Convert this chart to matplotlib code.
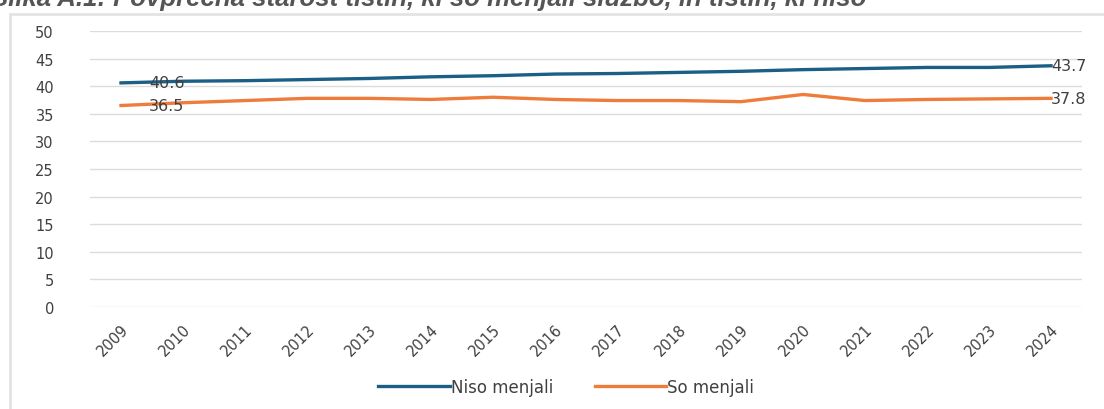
import matplotlib.pyplot as plt
from matplotlib.patches import Rectangle

years = [str(y) for y in range(2009, 2025)]
niso_menjali = [40.6, 40.9, 41.0, 41.2, 41.4, 41.7, 41.9, 42.2,
                42.3, 42.5, 42.7, 43.0, 43.2, 43.4, 43.4, 43.7]
so_menjali = [36.5, 37.0, 37.4, 37.8, 37.8, 37.6, 38.0, 37.6,
              37.4, 37.4, 37.2, 38.5, 37.4, 37.6, 37.7, 37.8]
title = 'Slika A.1: Povprečna starost tistih, ki so menjali službo, in tistih, ki niso'

plt.rcParams['font.family'] = ['DejaVu Sans']

fig = plt.figure(figsize=(11.04, 4.10), dpi=100)
ax = fig.add_axes([90 / 1104, 1 - 308 / 410, 992 / 1104, 276 / 410])

# frame around the chart area
fig.patches.append(Rectangle((10 / 1104, -0.1), 1.2, 1 - 15 / 410 + 0.1,
                             transform=fig.transFigure, fill=False,
                             edgecolor='#e3e3e3', lw=2))
fig.text(-0.008, 1 - 6 / 410, title, fontsize=18.5, fontweight='bold',
         fontstyle='italic', color='#555555', va='baseline', ha='left',
         family='Liberation Sans')

x = range(len(years))
ax.plot(x, niso_menjali, color='#1b5e86', lw=2.4, label='Niso menjali')
ax.plot(x, so_menjali, color='#ee7d3b', lw=2.4, label='So menjali')

lab_kw = dict(fontsize=11.5, color='#404040', va='center')
ax.text(0.45, niso_menjali[0], f'{niso_menjali[0]:.1f}', **lab_kw)
ax.text(0.45, so_menjali[0], f'{so_menjali[0]:.1f}', **lab_kw)
ax.text(15.0, niso_menjali[-1], f'{niso_menjali[-1]:.1f}', **lab_kw)
ax.text(15.0, so_menjali[-1], f'{so_menjali[-1]:.1f}', **lab_kw)

ax.set_xlim(-0.5, 15.5)
ax.set_ylim(0, 50)
ax.set_yticks(range(0, 51, 5))
ax.set_xticks(list(x))
ax.set_xticklabels(years, rotation=45, ha='right', rotation_mode='anchor')
ax.tick_params(axis='both', length=0, labelsize=10.5, labelcolor='#404040')
ax.tick_params(axis='y', pad=26)
ax.tick_params(axis='x', pad=10)
ax.grid(axis='y', color='#dcdcdc', lw=1)
ax.set_axisbelow(True)
for s in ax.spines.values():
    s.set_visible(False)

ax.legend(loc='center', bbox_to_anchor=(0.48, -0.29), ncol=2, frameon=False,
          fontsize=12, handlelength=4.3, handletextpad=0.05, columnspacing=2.5,
          labelcolor='#404040')

fig.savefig('out.png', dpi=100)
